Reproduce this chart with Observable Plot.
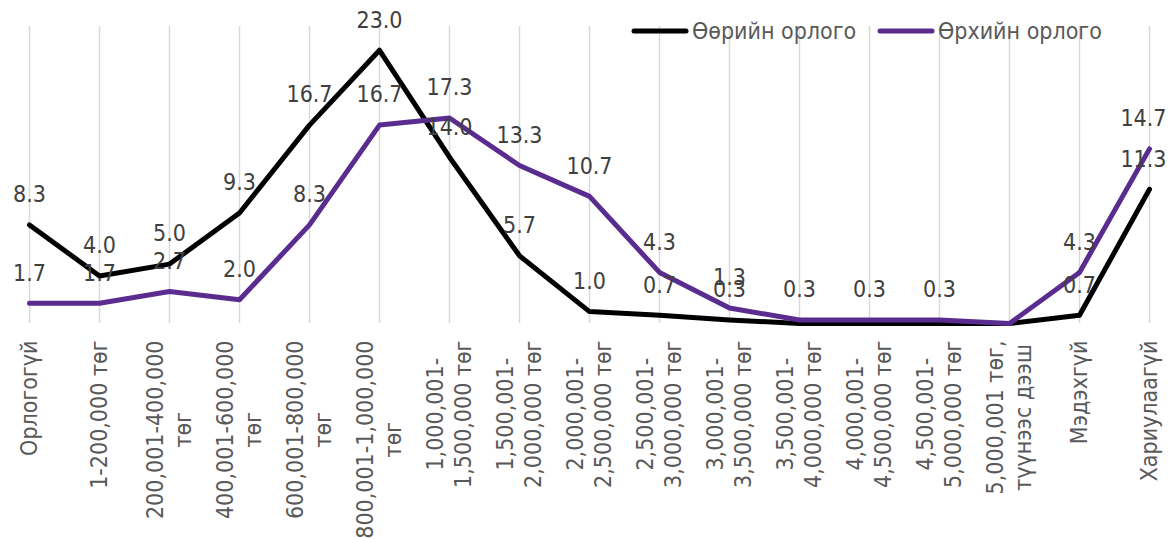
<!DOCTYPE html>
<html><head><meta charset="utf-8">
<script src="https://cdn.jsdelivr.net/npm/d3@7"></script>
<script src="https://cdn.jsdelivr.net/npm/@observablehq/plot@0.6"></script>
<style>
body{margin:0;background:#fff;}
#wrap{position:relative;width:1171px;height:539px;overflow:hidden;background:#fff;}
.leg{position:absolute;display:flex;align-items:center;font-family:"DejaVu Sans Condensed","Liberation Sans",sans-serif;font-size:23px;color:#595959;white-space:nowrap;line-height:1;}
.leg svg{display:block;margin-right:3px;}
</style></head><body><div id="wrap"></div>
<script>
const categories = ["Орлогогүй","1-200,000 төг","200,001-400,000 төг","400,001-600,000 төг","600,001-800,000 төг","800,001-1,000,000 төг","1,000,001-1,500,000 төг","1,500,001-2,000,000 төг","2,000,001-2,500,000 төг","2,500,001-3,000,000 төг","3,000,001-3,500,000 төг","3,500,001-4,000,000 төг","4,000,001-4,500,000 төг","4,500,001-5,000,000 төг","5,000,001 төг, түүнээс дээш","Мэдэхгүй","Хариулаагүй"];
const tickLabels = ["Орлогогүй","1-200,000 төг","200,001-400,000\nтөг","400,001-600,000\nтөг","600,001-800,000\nтөг","800,001-1,000,000\nтөг","1,000,001-\n1,500,000 төг","1,500,001-\n2,000,000 төг","2,000,001-\n2,500,000 төг","2,500,001-\n3,000,000 төг","3,000,001-\n3,500,000 төг","3,500,001-\n4,000,000 төг","4,000,001-\n4,500,000 төг","4,500,001-\n5,000,000 төг","5,000,001 төг,\nтүүнээс дээш","Мэдэхгүй","Хариулаагүй"];
const ownIncome = [8.3,4.0,5.0,9.3,16.7,23.0,14.0,5.7,1.0,0.7,0.3,0,0,0,0,0.7,11.3];
const householdIncome = [1.7,1.7,2.7,2.0,8.3,16.7,17.3,13.3,10.7,4.3,1.3,0.3,0.3,0.3,0,4.3,14.7];
const seriesNames = ["Өөрийн орлого","Өрхийн орлого"];
const seriesColors = ["#000000","#5b2c90"];

const FONT = '"DejaVu Sans Condensed","Liberation Sans",sans-serif';
const rows = categories.map((c,i)=>({cat:c, own:ownIncome[i], hh:householdIncome[i]}));
const lastCat = categories[categories.length-1];

const ctx = document.createElement("canvas").getContext("2d");
ctx.font = '23px "DejaVu Sans Condensed","Liberation Sans",sans-serif';
const lineH = 28;
const axisMarks = [];
tickLabels.forEach((lab,i)=>{
  const lines = lab.split("\n");
  const L = Math.max(...lines.map(s=>ctx.measureText(s).width));
  lines.forEach((s,j)=>{
    axisMarks.push(Plot.text([categories[i]],{x:d=>d, y:()=>0, text:()=>s, rotate:-90, textAnchor:"middle",
      dy:17+L/2, dx:(j-(lines.length-1)/2)*lineH, fill:"#595959", fontSize:23, fontFamily:FONT}));
  });
});

const labelMarks = [];
[["own"],["hh"]].forEach(([k])=>{
  const inner = rows.filter(d=>d[k]>0 && d.cat!==lastCat);
  const edge = rows.filter(d=>d[k]>0 && d.cat===lastCat);
  labelMarks.push(Plot.text(inner,{x:"cat", y:k, text:d=>d[k].toFixed(1), dy:-30, fill:"#404040", fontSize:23, fontFamily:FONT}));
  labelMarks.push(Plot.text(edge,{x:"cat", y:k, text:d=>d[k].toFixed(1), dy:-30, dx:17, textAnchor:"end", fill:"#404040", fontSize:23, fontFamily:FONT}));
});

const chart = Plot.plot({
  width:1171, height:539, margin:0,
  style:{background:"white", fontFamily:FONT},
  x:{type:"point", domain:categories, range:[27,1151], padding:0, axis:null},
  y:{domain:[0,25], range:[323,26], axis:null},
  marks:[
    Plot.ruleX(categories,{x:d=>d, y1:()=>0, y2:()=>25, stroke:"#d9d9d9", strokeWidth:1.5}),
    Plot.line(rows,{x:"cat", y:"own", stroke:seriesColors[0], strokeWidth:5, strokeLinejoin:"round"}),
    Plot.line(rows,{x:"cat", y:"hh", stroke:seriesColors[1], strokeWidth:5, strokeLinejoin:"round"}),
    ...labelMarks,
    ...axisMarks
  ]
});
const wrap = document.getElementById("wrap");
wrap.appendChild(chart);

const legPos = [631, 877];
seriesNames.forEach((name,i)=>{
  const d = document.createElement("div");
  d.className = "leg";
  d.style.left = legPos[i]+"px";
  d.style.top = "19px";
  d.innerHTML = `<svg width="58" height="24"><line x1="3" y1="12" x2="55" y2="12" stroke="${seriesColors[i]}" stroke-width="5" stroke-linecap="round"/></svg><span>${name}</span>`;
  wrap.appendChild(d);
});
</script>
</body></html>
